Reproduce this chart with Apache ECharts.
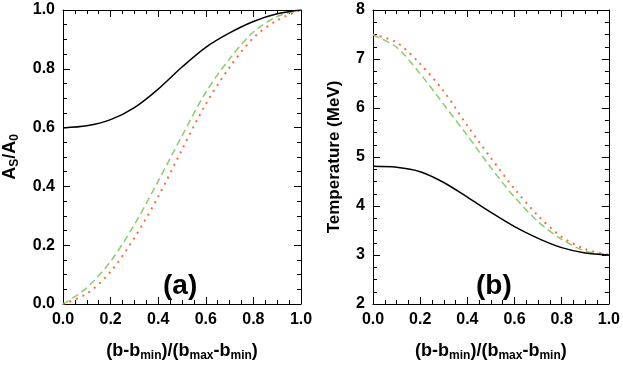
<!DOCTYPE html>
<html>
<head>
<meta charset="utf-8">
<script src="https://cdn.jsdelivr.net/npm/echarts@6/dist/echarts.min.js"></script>
<style>
  html, body { margin: 0; padding: 0; background: #fff; }
  #chart { width: 623px; height: 367px; }
</style>
</head>
<body>
<div id="chart"></div>
<script>
// impact-parameter fraction (b-bmin)/(bmax-bmin)
const xs = [0, 0.1, 0.2, 0.3, 0.4, 0.5, 0.6, 0.7, 0.8, 0.9, 1.0];

// panel (a): As/A0
const ratioSolid  = [0.599, 0.606, 0.627, 0.668, 0.731, 0.806, 0.873, 0.922, 0.961, 0.987, 1.000];
const ratioDashed = [0.000, 0.055, 0.145, 0.270, 0.418, 0.572, 0.720, 0.834, 0.925, 0.978, 1.000];
const ratioDotted = [0.000, 0.035, 0.110, 0.225, 0.365, 0.525, 0.680, 0.805, 0.905, 0.965, 1.000];

// panel (b): temperature (MeV)
const tempSolid  = [4.81, 4.79, 4.70, 4.48, 4.18, 3.87, 3.58, 3.34, 3.15, 3.04, 3.00];
const tempDashed = [7.49, 7.24, 6.70, 6.07, 5.44, 4.78, 4.18, 3.68, 3.32, 3.08, 3.00];
const tempDotted = [7.50, 7.34, 6.90, 6.34, 5.64, 4.98, 4.35, 3.80, 3.37, 3.12, 3.00];

const FONT = '"Liberation Sans", Arial, sans-serif';
const black = '#000';
const green = '#8dcb6c';
const orange = '#f2703a';

const chart = echarts.init(document.getElementById('chart'), null, {renderer: 'canvas'});

const pairs = (ys) => xs.map((x, i) => [x, ys[i]]);

const subRich = {
  a: {fontFamily: FONT, fontWeight: 'bold', fontSize: 18, color: black},
  s: {fontFamily: FONT, fontWeight: 'bold', fontSize: 12, color: black, padding: [10, 0, 0, 0]}
};
const xName = '{a|(b-b}{s|min}{a|)/(b}{s|max}{a|-b}{s|min}{a|)}';

function xAxisFor(gridIndex, top) {
  return {
    type: 'value', gridIndex: gridIndex, position: top ? 'top' : 'bottom',
    min: 0, max: 1, interval: 0.2,
    name: top ? '' : xName, nameLocation: 'middle', nameGap: 36,
    nameTextStyle: {rich: subRich},
    axisLine: {show: true, onZero: false, lineStyle: {color: black, width: 1}},
    axisTick: {show: true, inside: true, length: 7, lineStyle: {color: black, width: 1}},
    minorTick: {show: true, splitNumber: 4, length: 4, lineStyle: {color: black, width: 1}},
    axisLabel: {show: !top, color: black, fontFamily: FONT, fontWeight: 'bold', fontSize: 16, margin: 8,
      formatter: (v) => v.toFixed(1)},
    splitLine: {show: false}
  };
}

function yAxisFor(gridIndex, right, min, max, interval, fmt, name, nameGap, nameSize) {
  return {
    type: 'value', gridIndex: gridIndex, position: right ? 'right' : 'left',
    min: min, max: max, interval: interval,
    name: right ? '' : name, nameLocation: 'middle', nameGap: nameGap, nameRotate: 90,
    nameTextStyle: {rich: subRich, fontFamily: FONT, fontWeight: 'bold', fontSize: nameSize, color: black},
    axisLine: {show: true, onZero: false, lineStyle: {color: black, width: 1}},
    axisTick: {show: true, inside: true, length: 7, lineStyle: {color: black, width: 1}},
    minorTick: {show: true, splitNumber: 4, length: 4, lineStyle: {color: black, width: 1}},
    axisLabel: {show: !right, color: black, fontFamily: FONT, fontWeight: 'bold', fontSize: 16, margin: 8,
      formatter: fmt},
    splitLine: {show: false}
  };
}

function line(data, color, type, width, xi, yi) {
  return {
    type: 'line', data: data, xAxisIndex: xi, yAxisIndex: yi,
    smooth: 0.3, showSymbol: false, symbol: 'none',
    lineStyle: {color: color, type: type, width: width}
  };
}

const option = {
  backgroundColor: '#fff',
  animation: false,
  grid: [
    {left: 63, top: 10, width: 238, height: 301, containLabel: false},
    {left: 373, top: 10, width: 238, height: 301, containLabel: false}
  ],
  xAxis: [xAxisFor(0, false), xAxisFor(0, true), xAxisFor(1, false), xAxisFor(1, true)],
  yAxis: [
    yAxisFor(0, false, 0, 1, 0.2, (v) => v.toFixed(1), '{a|A}{s|S}{a|/A}{s|0}', 42, 18),
    yAxisFor(0, true, 0, 1, 0.2, (v) => v.toFixed(1), '', 0, 16),
    yAxisFor(1, false, 2, 8, 1, (v) => String(v), 'Temperature (MeV)', 30, 17),
    yAxisFor(1, true, 2, 8, 1, (v) => String(v), '', 0, 16)
  ],
  series: [
    line(pairs(ratioDashed), green, [7, 4], 1.5, 0, 0),
    line(pairs(ratioDotted), orange, [2, 5], 2, 0, 0),
    line(pairs(ratioSolid), black, 'solid', 1.5, 0, 0),
    line(pairs(tempDashed), green, [7, 4], 1.5, 2, 2),
    line(pairs(tempDotted), orange, [2, 5], 2, 2, 2),
    line(pairs(tempSolid), black, 'solid', 1.5, 2, 2)
  ],
  graphic: [
    {type: 'text', left: 163, top: 272, style: {text: '(a)', fontFamily: FONT, fontWeight: 'bold', fontSize: 28, fill: black}},
    {type: 'text', left: 476, top: 272, style: {text: '(b)', fontFamily: FONT, fontWeight: 'bold', fontSize: 28, fill: black}}
  ]
};

chart.setOption(option);
</script>
</body>
</html>
